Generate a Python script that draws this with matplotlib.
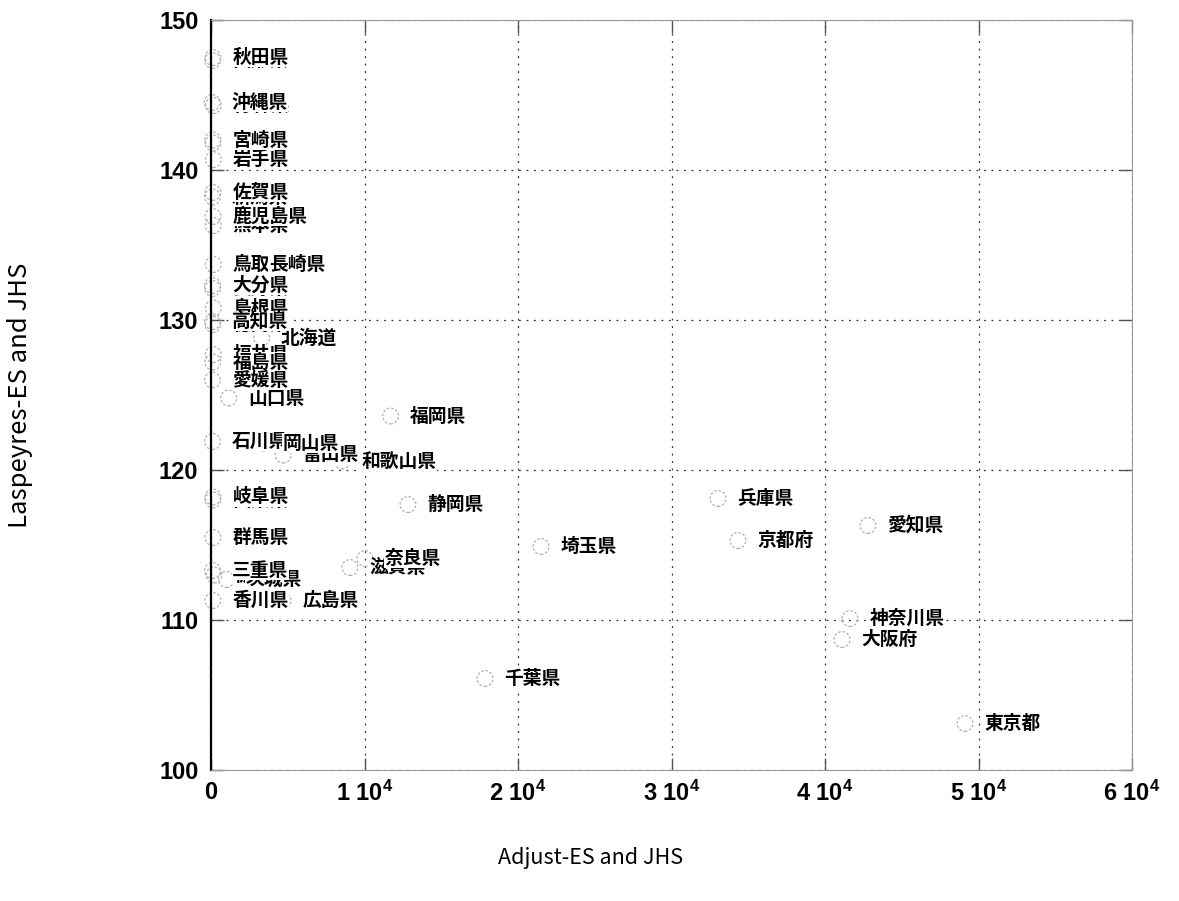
import matplotlib
matplotlib.use("Agg")
import matplotlib.pyplot as plt
from matplotlib.ticker import FixedLocator, FuncFormatter

plt.rcParams['font.family'] = ['Noto Sans CJK JP', 'DejaVu Sans']
plt.rcParams['mathtext.fontset'] = 'custom'
plt.rcParams['mathtext.rm'] = 'Liberation Sans:bold'
plt.rcParams['mathtext.bf'] = 'Liberation Sans:bold'
plt.rcParams['mathtext.default'] = 'rm'

# ---- data (draw order: partly hidden labels first) ----
names = ['山形県', '青森県', '宮城県', '岩手県', '新潟県', '熊本県', '長野県', '鳥取県',
         '島根県', '徳島県', '北海道', '福井県', '山口県', '石川県', '富山県', '山梨県',
         '栃木県', '茨城県', '滋賀県',
         '秋田県', '沖縄県', '宮崎県', '佐賀県', '鹿児島県', '長崎県', '大分県', '高知県',
         '福島県', '愛媛県', '福岡県', '岡山県', '和歌山県', '岐阜県', '静岡県', '群馬県',
         '三重県', '香川県', '広島県', '奈良県', '埼玉県', '千葉県', '兵庫県', '京都府',
         '愛知県', '神奈川県', '大阪府', '東京都']
adjust = [100, 150, 120, 150, 100, 150, 100, 150,
          150, 120, 3300, 150, 1150, 100, 4700, 120,
          200, 1000, 9050,
          130, 80, 120, 120, 130, 2500, 100, 100,
          120, 100, 11700, 3400, 8530, 130, 12830, 120,
          100, 120, 4700, 10030, 21500, 17850, 33030, 34330,
          42800, 41630, 41110, 49120]
laspeyres = [147.3, 144.3, 141.8, 140.7, 138.2, 136.3, 132.1, 133.7,
             130.8, 129.7, 128.8, 127.7, 124.8, 121.9, 121.0, 118.0,
             113.0, 112.7, 113.5,
             147.5, 144.5, 142.0, 138.5, 136.9, 133.7, 132.3, 129.9,
             127.2, 126.0, 123.6, 121.8, 120.6, 118.2, 117.7, 115.5,
             113.3, 111.3, 111.3, 114.1, 114.9, 106.1, 118.1, 115.3,
             116.3, 110.1, 108.7, 103.1]

x_ticks = [0, 10000, 20000, 30000, 40000, 50000, 60000]
y_ticks = [100, 110, 120, 130, 140, 150]
x_label = 'Adjust-ES and JHS'
y_label = 'Laspeyres-ES and JHS'

W, H = 1179, 901
fig = plt.figure(figsize=(W / 100, H / 100), dpi=100)
ax = fig.add_axes([211 / W, 1 - 770 / H, (1132 - 211) / W, (770 - 20) / H])

ax.scatter(adjust, laspeyres, s=130, facecolors='none', edgecolors='#b0b0b0',
           linewidths=0.9, linestyle=(0, (2, 1.5)), zorder=2, clip_on=False)

for n, xv, yv in zip(names, adjust, laspeyres):
    ax.annotate(n, (xv, yv), xytext=(14, 0), textcoords='offset points',
                ha='left', va='center', fontsize=13.5, fontweight='bold',
                family=['Noto Sans CJK JP', 'DejaVu Sans'],
                bbox=dict(boxstyle='square,pad=0.02', fc='white', ec='none'),
                zorder=3)

ax.set_xlim(0, 60000)
ax.set_ylim(100, 150)
ax.xaxis.set_major_locator(FixedLocator(x_ticks))
ax.yaxis.set_major_locator(FixedLocator(y_ticks))


def xfmt(v, pos):
    k = int(round(v / 10000))
    return '0' if k == 0 else f'{k} 10$^{{4}}$'


ax.xaxis.set_major_formatter(FuncFormatter(xfmt))
ax.yaxis.set_major_formatter(FuncFormatter(lambda v, p: f'{int(v)}'))

for lab in ax.get_xticklabels() + ax.get_yticklabels():
    lab.set_family(['Liberation Sans', 'DejaVu Sans'])
    lab.set_fontweight('bold')
    lab.set_fontsize(17)

ax.tick_params(axis='both', direction='in', length=9, width=1.0,
               top=True, right=True, color='#555555')
ax.tick_params(axis='x', pad=8)
ax.tick_params(axis='y', pad=9)

ax.grid(True, linestyle=(0, (1.5, 4.5)), color='#333333', linewidth=0.9)
ax.set_axisbelow(True)

for side in ['top', 'right', 'bottom']:
    ax.spines[side].set_color('#999999')
    ax.spines[side].set_linewidth(0.8)
ax.spines['left'].set_color('black')
ax.spines['left'].set_linewidth(1.6)

fig.text(590 / W, 1 - 858 / H, x_label, ha='center', va='center', fontsize=15.5)
fig.text(20 / W, 1 - 395 / H, y_label, ha='center', va='center', fontsize=18.5,
         rotation=90)

fig.savefig('out.png', dpi=100)
